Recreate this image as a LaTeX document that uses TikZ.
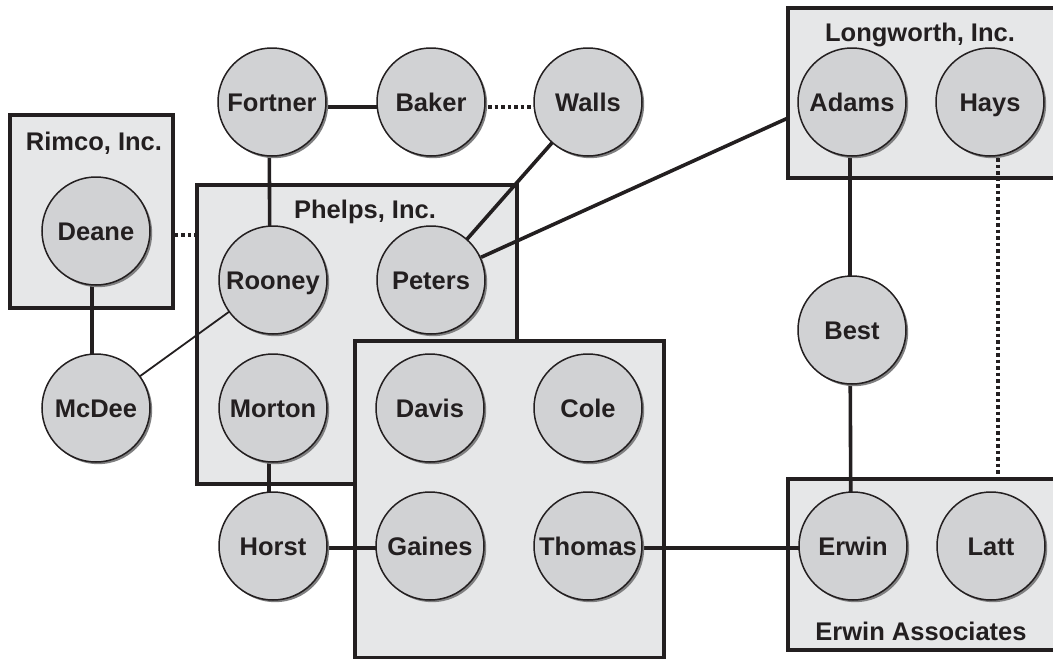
\documentclass[tikz,border=0pt]{standalone}
\usepackage{fontspec}
\setmainfont{Liberation Sans}
\usetikzlibrary{shadows}
\definecolor{boxfill}{HTML}{E6E7E8}
\definecolor{circfill}{HTML}{D1D2D4}
\definecolor{ink}{HTML}{231F20}
\definecolor{shade}{HTML}{7F7F80}
\tikzset{
  person/.style={circle, draw=ink, line width=1.5pt, fill=circfill, minimum size=108pt, inner sep=0pt,
    text height=18pt, text depth=0pt, font=\bfseries\fontsize{25.5}{30}\selectfont, text=ink,
    drop shadow={shadow xshift=2.2pt, shadow yshift=-2.2pt, fill=shade, opacity=1}},
  group/.style={draw=ink, line width=3.6pt, fill=boxfill, rectangle, inner sep=0pt},
  grouplabel/.style={anchor=base, inner sep=0pt, font=\bfseries\fontsize{25.5}{30}\selectfont, text=ink},
  conn/.style={draw=ink, line width=3.6pt},
  thinconn/.style={draw=ink, line width=1.8pt},
  dotconn/.style={draw=ink, line width=3.6pt, dash pattern=on 3.5pt off 3pt}
}
\begin{document}
\begin{tikzpicture}[x=1pt, y=-1pt]
\useasboundingbox (0,0) rectangle (1053,659);
\clip (0,0) rectangle (1053,659);
% group boxes
\node[group, minimum width=163pt, minimum height=193pt] (rimcobox) at (91.5,211.5) {};
\node[group, minimum width=320pt, minimum height=299pt] (phelpsbox) at (357,334.5) {};
\node[group, minimum width=309pt, minimum height=317pt] (unnamedbox) at (509.5,499.5) {};
\node[group, minimum width=280pt, minimum height=170pt] (longbox) at (928,93) {};
\node[group, minimum width=280pt, minimum height=171pt] (erwinbox) at (928,564.5) {};
% group labels
\node[grouplabel] (rimcolabel) at (94,150) {Rimco, Inc.};
\node[grouplabel] (phelpslabel) at (365,218) {Phelps, Inc.};
\node[grouplabel] (longlabel) at (920,41) {Longworth, Inc.};
\node[grouplabel] (erwinlabel) at (921,640) {Erwin Associates};
% free end of the Peters connector on the Longworth box
\coordinate (lwedge) at (788,118);
% people centres
\path
  (272,102) coordinate (pFortner)
  (431,102) coordinate (pBaker)
  (588,102) coordinate (pWalls)
  (852,102) coordinate (pAdams)
  (990,102) coordinate (pHays)
  (96,231)  coordinate (pDeane)
  (273,280) coordinate (pRooney)
  (431,280) coordinate (pPeters)
  (852,330) coordinate (pBest)
  (96,408)  coordinate (pMcDee)
  (273,408) coordinate (pMorton)
  (430,408) coordinate (pDavis)
  (588,408) coordinate (pCole)
  (273,546) coordinate (pHorst)
  (430,546) coordinate (pGaines)
  (588,546) coordinate (pThomas)
  (853,546) coordinate (pErwin)
  (991,546) coordinate (pLatt);
% connectors drawn first (below circles)
\draw[conn] ([xshift=-3pt]pFortner) -- ([xshift=-3pt]pRooney);
\draw[conn] ([yshift=-5pt]pFortner) -- ([yshift=-5pt]pBaker);
\draw[dotconn] ([yshift=-5pt,xshift=57pt]pBaker) -- ([yshift=-5pt,xshift=-54pt]pWalls);
\draw[conn] (pWalls) -- (pPeters);
\draw[conn] (pPeters) -- (lwedge);
\draw[dotconn] (rimcobox.east |- 0,235) -- (phelpsbox.west |- 0,235);
\draw[conn] ([xshift=-4pt]pDeane) -- ([xshift=-4pt]pMcDee);
\draw[thinconn] (pRooney) -- (pMcDee);
\draw[conn] ([xshift=-4pt]pMorton) -- ([xshift=-4pt]pHorst);
\draw[conn] ([yshift=-2pt]pHorst) -- ([yshift=-2pt]pGaines);
\draw[conn] ([yshift=-2pt]pThomas) -- ([yshift=-2pt]pErwin);
\draw[conn] ([xshift=-2pt]pAdams) -- ([xshift=-2pt]pBest);
\draw[conn] ([xshift=-2pt]pBest) -- ([xshift=-2pt]pErwin);
\coordinate (haysdot) at ([xshift=8pt]pHays);
\draw[dotconn] ([yshift=-56pt]haysdot) -- (haysdot |- erwinbox.north);
% circles
\node[person] (fortner) at (pFortner) {Fortner};
\node[person] (baker) at (pBaker) {Baker};
\node[person] (walls) at (pWalls) {Walls};
\node[person] (adams) at (pAdams) {Adams};
\node[person] (hays) at (pHays) {Hays};
\node[person] (deane) at (pDeane) {Deane};
\node[person] (rooney) at (pRooney) {Rooney};
\node[person] (peters) at (pPeters) {Peters};
\node[person] (best) at (pBest) {Best};
\node[person] (mcdee) at (pMcDee) {McDee};
\node[person] (morton) at (pMorton) {Morton};
\node[person] (davis) at (pDavis) {Davis};
\node[person] (cole) at (pCole) {Cole};
\node[person] (horst) at (pHorst) {Horst};
\node[person] (gaines) at (pGaines) {Gaines};
\node[person] (thomas) at (pThomas) {Thomas};
\node[person] (erwin) at (pErwin) {Erwin};
\node[person] (latt) at (pLatt) {Latt};
\end{tikzpicture}
\end{document}
